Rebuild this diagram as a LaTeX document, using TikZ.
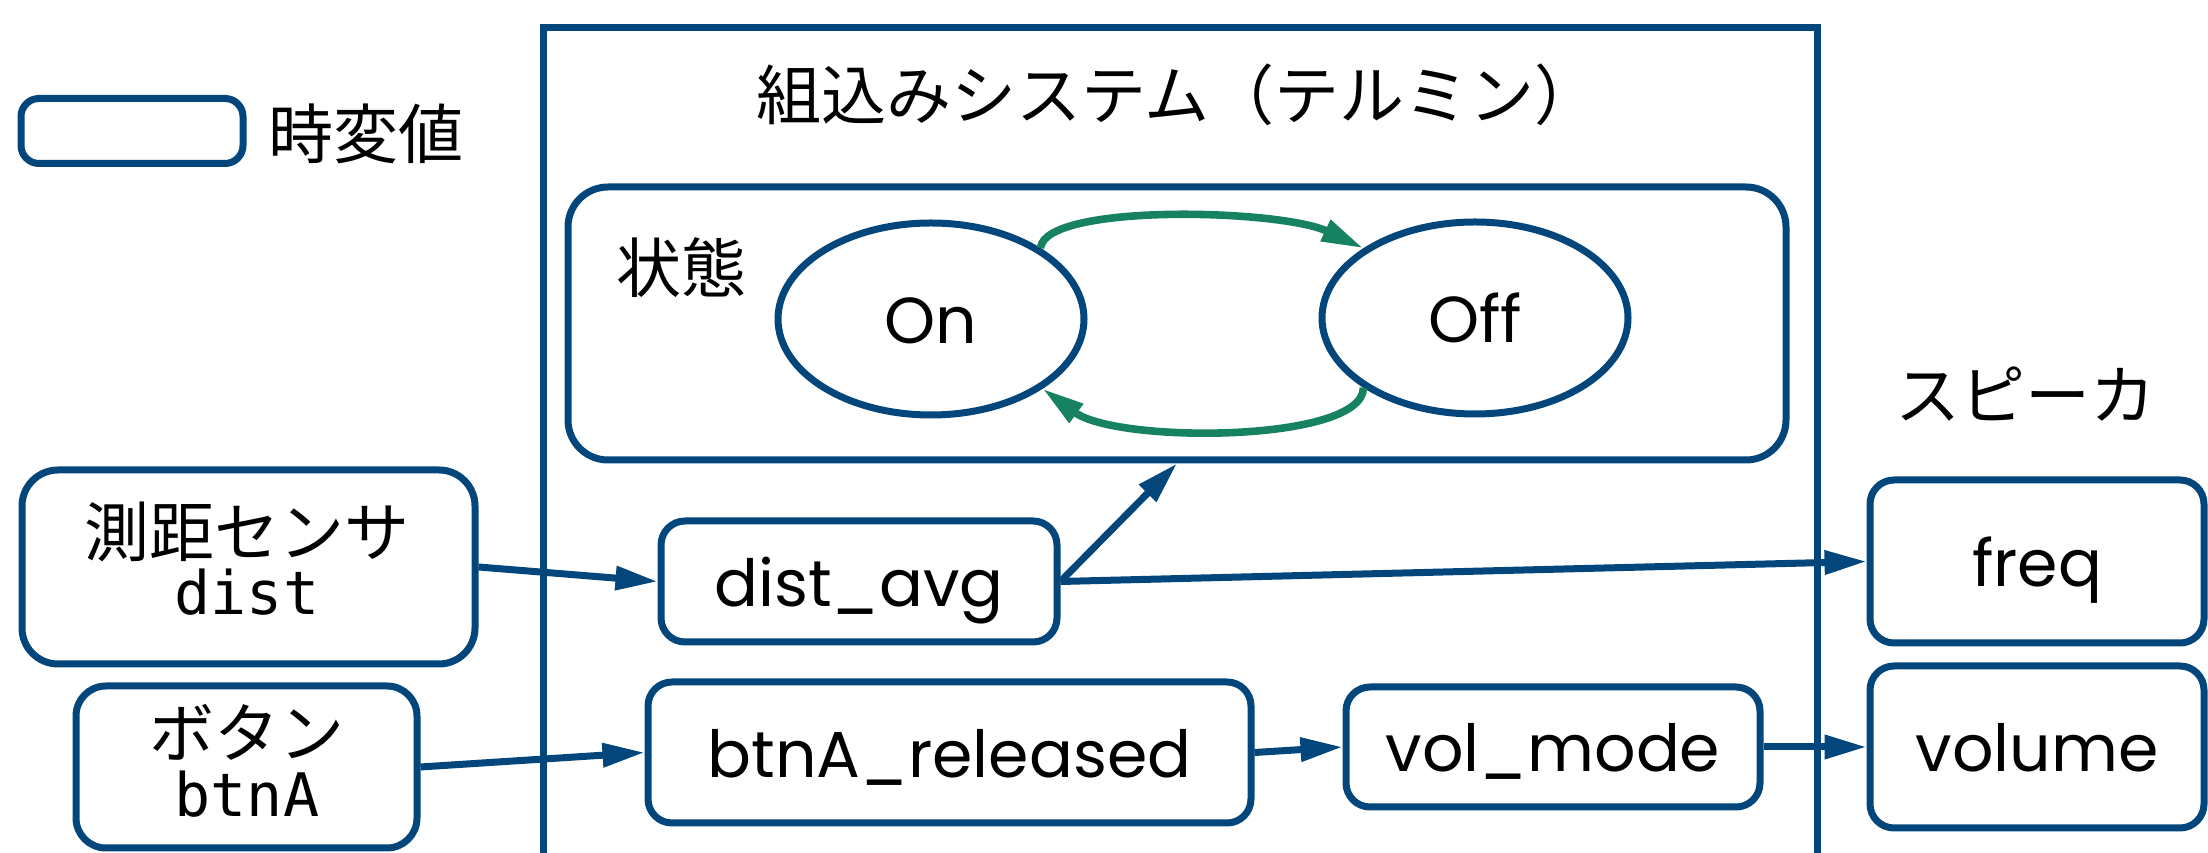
\documentclass[tikz,border=0pt]{standalone}
\usepackage{fontspec}
\usetikzlibrary{shapes.geometric, arrows.meta}
\newfontfamily\jpfont{Noto Sans CJK JP}
\newfontfamily\latfont{Poppins}
\newfontfamily\codefont{DejaVu Sans Mono}
\definecolor{navy}{RGB}{3,70,124}
\definecolor{trgreen}{RGB}{23,130,98}
\begin{document}
\begin{tikzpicture}[x=0.25pt, y=-0.25pt,
  valbox/.style={draw=navy, line width=1.75pt, rounded corners=6pt, inner sep=0pt},
  lattxt/.style={font=\latfont\fontsize{16.25pt}{19pt}\selectfont, text height=12.5pt, text depth=0pt},
  jplbl/.style={font=\jpfont\fontsize{16.25pt}{19pt}\selectfont, inner sep=0pt, anchor=base},
  codelbl/.style={font=\codefont\fontsize{15pt}{18pt}\selectfont, inner sep=0pt, anchor=base},
  stateell/.style={ellipse, draw=navy, line width=1.75pt, inner sep=0pt, minimum width=76.5pt, minimum height=48pt, lattxt},
  conn/.style={draw=navy, line width=1.75pt, -{Triangle[length=10.5pt, width=5.75pt]}},
  trans/.style={draw=trgreen, line width=1.9pt, -{Triangle[length=10.5pt, width=5.5pt]}},
  sysline/.style={draw=navy, line width=1.75pt}
]
\path[use as bounding box] (0,0) rectangle (2208,853);

% system frame
\coordinate (sysbl) at (543,853);
\coordinate (systl) at (543,28);
\coordinate (systr) at (1817,28);
\coordinate (sysbr) at (1817,853);
\draw[sysline] (sysbl) -- (systl) -- (systr) -- (sysbr);
\node[jplbl] (title) at (1178,120) {組込みシステム（テルミン）};

% legend
\node[valbox, rounded corners=4.5pt, minimum width=55.5pt, minimum height=16.25pt] (legend) at (132,131) {};
\node[jplbl] (legendtxt) at (366,159) {時変値};

% state box
\node[valbox, rounded corners=10pt, minimum width=304.5pt, minimum height=68.25pt] (state) at (1177,323.5) {};
\node[jplbl] (statetxt) at (681,293) {状態};
\node[stateell] (on) at (931,319) {On};
\node[stateell] (off) at (1475,318) {Off};

% inputs
\node[valbox, rounded corners=9pt, minimum width=113.25pt, minimum height=48.5pt] (sensor) at (248.5,567) {};
\node[jplbl] (sensorjp) at (247,557) {測距センサ};
\node[codelbl] (sensortt) at (247,615) {dist};
\node[valbox, rounded corners=7.5pt, minimum width=85.25pt, minimum height=40.5pt] (button) at (246.5,767) {};
\node[jplbl] (buttonjp) at (247,758) {ボタン};
\node[codelbl] (buttontt) at (247,817) {btnA};

% internal values
\node[valbox, lattxt, minimum width=99pt, minimum height=30.25pt] (davg) at (859,581.5) {dist\_avg};
\node[valbox, lattxt, minimum width=150.75pt, minimum height=35.25pt] (rel) at (949.5,752.5) {btnA\_released};
\node[valbox, lattxt, minimum width=103.5pt, minimum height=30pt] (volmode) at (1553,747) {vol\_mode};

% speaker
\node[jplbl] (spktxt) at (2025,420) {スピーカ};
\node[valbox, lattxt, minimum width=83.5pt, minimum height=40.75pt] (freq) at (2037,561.5) {freq};
\node[valbox, lattxt, minimum width=83.5pt, minimum height=40.5pt] (volume) at (2037,747) {volume};

% connectors
\draw[conn] (sensor.east) -- (davg.west);
\draw[conn] (button.east) -- (rel.west);
\draw[conn] (davg.east) -- (freq.west);
\draw[conn] (davg.east) -- (state.south);
\draw[conn] (rel.east) -- (volmode.west);
\draw[conn] (volmode.east) -- (volume.west);

% transitions
\draw[trans] (on.33) .. controls +(5,-45) and +(-83,-39) .. (off.148);
\draw[trans] (off.212) .. controls +(0,55) and +(75,55) .. (on.328);
\end{tikzpicture}
\end{document}
